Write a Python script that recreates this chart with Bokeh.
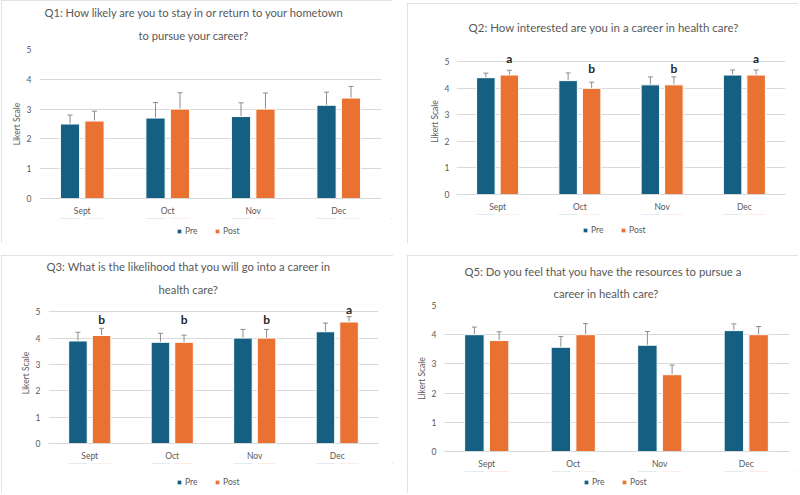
from bokeh.plotting import figure
from bokeh.models import (ColumnDataSource, FactorRange, Range1d, Whisker, TeeHead,
                          Legend, LegendItem, Title, FixedTicker)
from bokeh.core.properties import value
from bokeh.transform import dodge
from bokeh.layouts import row, column
from bokeh.embed import file_html
from bokeh.resources import INLINE

# ---- data -------------------------------------------------------------
MONTHS = ["Sept", "Oct", "Nov", "Dec"]

Q1_PRE = [2.50, 2.70, 2.75, 3.13]
Q1_POST = [2.60, 3.00, 3.00, 3.37]
Q1_PRE_ERR = [0.30, 0.52, 0.46, 0.44]
Q1_POST_ERR = [0.33, 0.55, 0.54, 0.39]

Q2_PRE = [4.40, 4.29, 4.13, 4.50]
Q2_POST = [4.50, 4.00, 4.13, 4.50]
Q2_PRE_ERR = [0.17, 0.29, 0.30, 0.19]
Q2_POST_ERR = [0.18, 0.23, 0.30, 0.19]
Q2_LETTERS = ["a", "b", "b", "a"]

Q3_PRE = [3.89, 3.84, 4.00, 4.24]
Q3_POST = [4.10, 3.84, 4.00, 4.61]
Q3_PRE_ERR = [0.33, 0.34, 0.33, 0.33]
Q3_POST_ERR = [0.27, 0.27, 0.33, 0.20]
Q3_LETTERS = ["b", "b", "b", "a"]

Q5_PRE = [4.00, 3.57, 3.64, 4.14]
Q5_POST = [3.80, 4.00, 2.63, 4.00]
Q5_PRE_ERR = [0.26, 0.37, 0.47, 0.23]
Q5_POST_ERR = [0.30, 0.38, 0.33, 0.28]

Y_TICKS = [0, 1, 2, 3, 4, 5]

# ---- styling ----------------------------------------------------------
PRE_COLOR = "#156082"
POST_COLOR = "#E97132"
GRID_COLOR = "#d9d9d9"
TEXT_COLOR = "#595959"
ERR_COLOR = "#8c8c8c"
FONT = "Lato"
BAR_W = 0.225
OFFSET = 0.143
CHART_BOTTOM = 19   # room under the plot for the month labels


def legend_strip(src, cfg):
    """Narrow strip under a chart holding its Pre / Post key."""
    lf = figure(width=cfg["w"], height=cfg["border"][3] - CHART_BOTTOM,
                output_backend="svg", toolbar_location=None, tools="",
                x_range=FactorRange(*MONTHS), y_range=Range1d(-2, -1),
                x_axis_type=None, y_axis_type=None, min_border=0)
    lf.outline_line_color = None
    lf.background_fill_color = "white"
    lf.border_fill_color = "white"
    # same bars as the chart, kept out of this strip's visible range
    r_pre = lf.vbar(x=dodge("month", -OFFSET, range=lf.x_range), top="pre",
                    width=BAR_W, source=src, fill_color=PRE_COLOR,
                    line_color="white", line_width=1)
    r_post = lf.vbar(x=dodge("month", OFFSET, range=lf.x_range), top="post",
                     width=BAR_W, source=src, fill_color=POST_COLOR,
                     line_color="white", line_width=1)
    legend = Legend(items=[LegendItem(label="Pre", renderers=[r_pre]),
                           LegendItem(label="Post", renderers=[r_post])],
                    orientation="horizontal", location=cfg["legend_loc"],
                    glyph_width=6, glyph_height=6, label_standoff=3, spacing=9,
                    padding=0, margin=0, border_line_color=None,
                    background_fill_alpha=0,
                    label_text_font=FONT, label_text_font_size="8.5px",
                    label_text_color=TEXT_COLOR, label_height=10)
    lf.add_layout(legend)
    return lf


def make_panel(title_lines, pre, post, pre_err, post_err, cfg,
               letters=None, letter_y=None):
    src = ColumnDataSource(dict(
        month=MONTHS, pre=pre, post=post,
        pre_lo=[v - e for v, e in zip(pre, pre_err)],
        pre_hi=[v + e for v, e in zip(pre, pre_err)],
        post_lo=[v - e for v, e in zip(post, post_err)],
        post_hi=[v + e for v, e in zip(post, post_err)],
    ))
    left, right, top, bottom = cfg["border"]
    chart_h = cfg["h"] - (bottom - CHART_BOTTOM)
    p = figure(x_range=FactorRange(*MONTHS), y_range=Range1d(0, cfg["y_end"]),
               width=cfg["w"], height=chart_h, output_backend="svg",
               toolbar_location=None, tools="",
               min_border_left=left, min_border_right=right,
               min_border_top=top, min_border_bottom=CHART_BOTTOM)
    p.outline_line_color = None
    p.background_fill_color = "white"
    p.border_fill_color = "white"

    xs_pre = dodge("month", -OFFSET, range=p.x_range)
    xs_post = dodge("month", OFFSET, range=p.x_range)
    p.vbar(x=xs_pre, top="pre", width=BAR_W, source=src,
           fill_color=PRE_COLOR, line_color="white", line_width=1)
    p.vbar(x=xs_post, top="post", width=BAR_W, source=src,
           fill_color=POST_COLOR, line_color="white", line_width=1)

    for xs, lo, hi in ((xs_pre, "pre_lo", "pre_hi"), (xs_post, "post_lo", "post_hi")):
        w = Whisker(base=xs, lower=lo, upper=hi, source=src,
                    line_color=ERR_COLOR, line_width=1,
                    upper_head=TeeHead(size=5, line_color=ERR_COLOR, line_width=1),
                    lower_head=TeeHead(size=5, line_color=ERR_COLOR, line_width=1))
        p.add_layout(w)

    if letters is not None:
        lsrc = ColumnDataSource(dict(month=MONTHS, letter=letters, ly=letter_y))
        p.text(x=xs_post, y="ly", text="letter", source=lsrc,
               text_align="center", text_baseline="alphabetic",
               text_font=value(FONT), text_font_size="12px",
               text_font_style="bold", text_color="#262626")

    # axes
    p.yaxis.ticker = FixedTicker(ticks=Y_TICKS)
    p.yaxis.axis_line_color = None
    p.yaxis.major_tick_line_color = None
    p.yaxis.minor_tick_line_color = None
    p.yaxis.major_label_standoff = cfg["ytick_standoff"]
    p.yaxis.axis_label = "Likert Scale"
    p.yaxis.axis_label_standoff = 2
    p.yaxis.axis_label_text_font_style = "normal"
    p.yaxis.axis_label_text_font_size = "8.5px"
    p.yaxis.axis_label_text_color = TEXT_COLOR
    p.yaxis.axis_label_text_font = FONT

    p.xaxis.axis_line_color = GRID_COLOR
    p.xaxis.major_tick_line_color = None
    p.xaxis.minor_tick_line_color = None
    p.xaxis.major_label_standoff = 1
    for ax in (p.xaxis, p.yaxis):
        ax.major_label_text_font_size = "8.5px"
        ax.major_label_text_color = TEXT_COLOR
        ax.major_label_text_font = FONT

    p.xgrid.grid_line_color = None
    p.ygrid.ticker = FixedTicker(ticks=Y_TICKS)
    p.ygrid.grid_line_color = GRID_COLOR

    # title lines: the first one added sits nearest the plot
    for line, so, off in zip(reversed(title_lines), reversed(cfg["title_standoffs"]),
                             reversed(cfg["title_offsets"])):
        p.add_layout(Title(text=line, align="left", offset=off, standoff=so,
                           text_font=FONT, text_font_size=cfg["title_size"],
                           text_font_style="normal", text_color=TEXT_COLOR),
                     "above")

    return column(p, legend_strip(src, cfg), spacing=0,
                  margin=cfg["margin"],
                  styles={"outline": "1px solid #d9d9d9", "outline-offset": "-1px"})


c1 = make_panel(["Q1: How likely are you to stay in or return to your hometown",
                 "to pursue your career?"],
                Q1_PRE, Q1_POST, Q1_PRE_ERR, Q1_POST_ERR,
                dict(w=391, h=243, margin=(0, 0, 0, 1), border=(38, 11, 49, 44),
                     y_end=5.0, title_size="11.2px", title_standoffs=[2, 15],
                     title_offsets=[5, 99],
                     ytick_standoff=2, legend_loc=(137, 7)))
c2 = make_panel(["Q2: How interested are you in a career in health care?"],
                Q2_PRE, Q2_POST, Q2_PRE_ERR, Q2_POST_ERR,
                dict(w=391, h=240, margin=(3, 0, 0, 15), border=(49, 13, 45, 48),
                     y_end=5.5, title_size="11.5px", title_standoffs=[29],
                     title_offsets=[12],
                     ytick_standoff=1, legend_loc=(126, 8)),
                letters=Q2_LETTERS, letter_y=[5.14, 4.75, 4.75, 5.14])
c3 = make_panel(["Q3: What is the likelihood that you will go into a career in",
                 "health care?"],
                Q3_PRE, Q3_POST, Q3_PRE_ERR, Q3_POST_ERR,
                dict(w=392, h=238, margin=(12, 0, 0, 1), border=(47, 15, 47, 49),
                     y_end=5.35, title_size="11.3px", title_standoffs=[2, 14],
                     title_offsets=[-2, 110],
                     ytick_standoff=2, legend_loc=(128, 6)),
                letters=Q3_LETTERS, letter_y=[4.69, 4.69, 4.69, 5.07])
c4 = make_panel(["Q5: Do you feel that you have the resources to pursue a",
                 "career in health care?"],
                Q5_PRE, Q5_POST, Q5_PRE_ERR, Q5_POST_ERR,
                dict(w=391, h=238, margin=(12, 0, 0, 14), border=(36, 9, 50, 41),
                     y_end=5.0, title_size="11.3px", title_standoffs=[2, 12],
                     title_offsets=[21, 110],
                     ytick_standoff=1, legend_loc=(140, 6)))

layout = column(row(c1, c2, spacing=0), row(c3, c4, spacing=0), spacing=0)

open("out.html", "w").write(file_html(layout, INLINE))
